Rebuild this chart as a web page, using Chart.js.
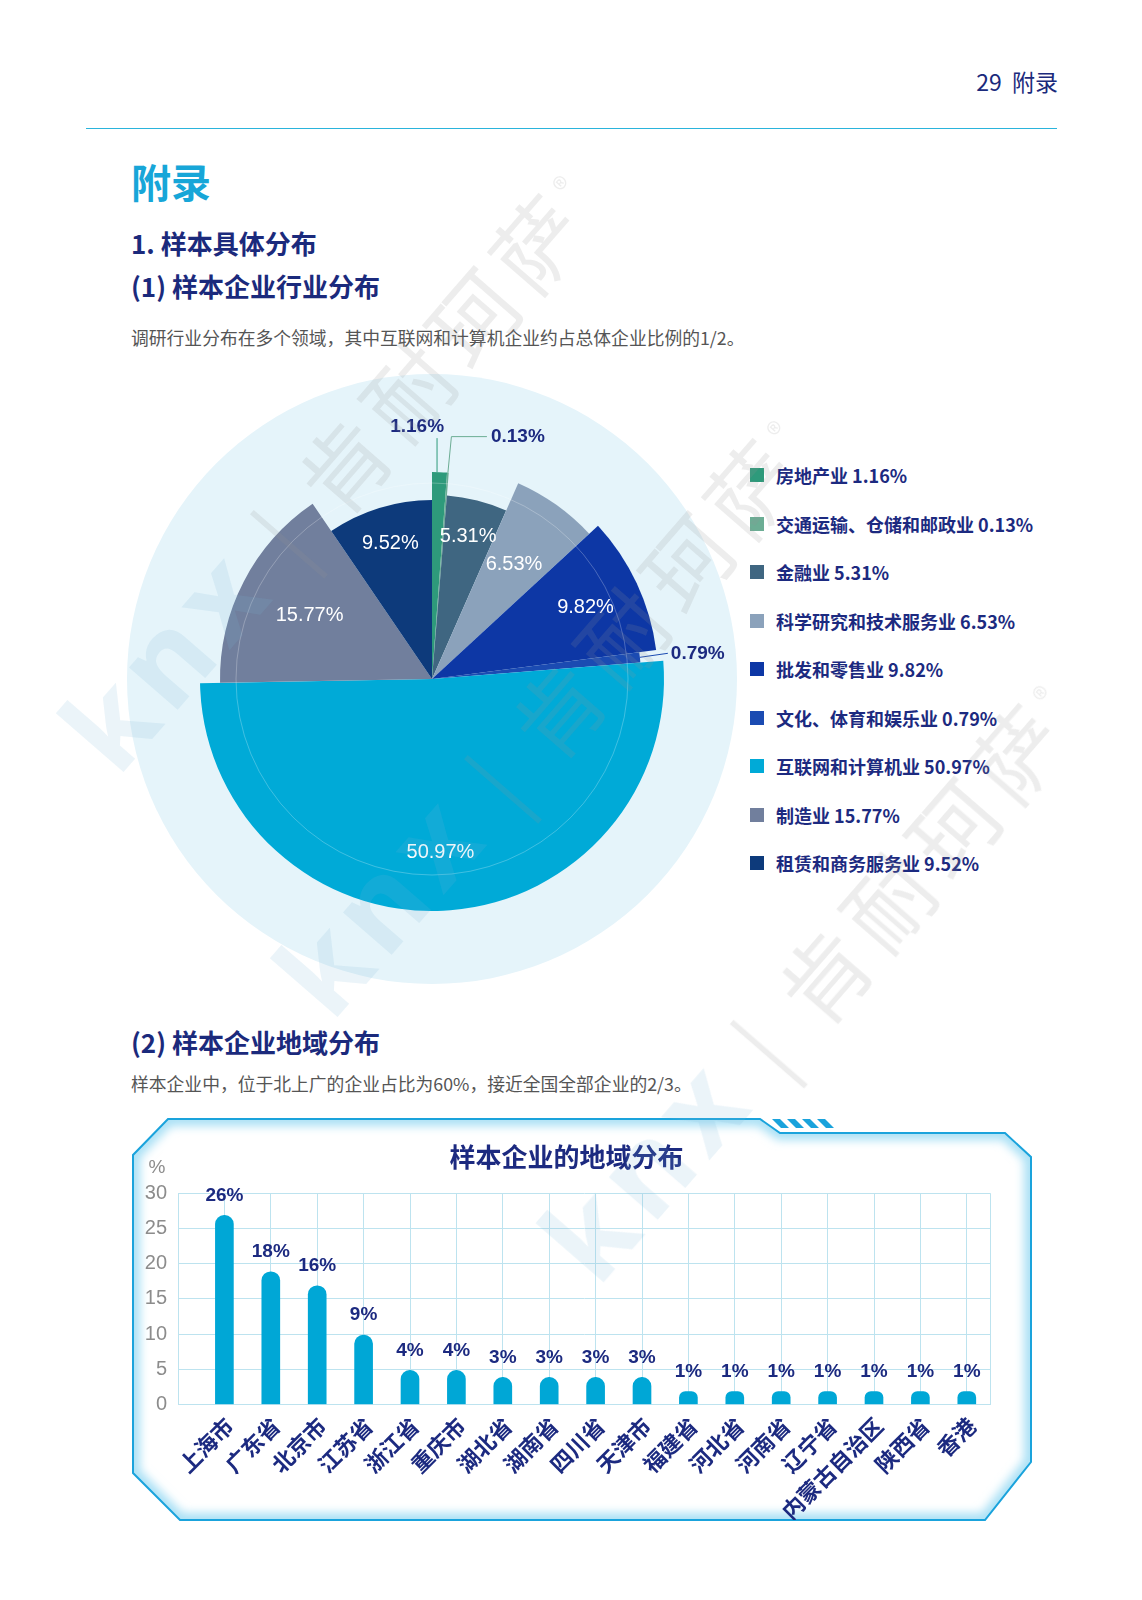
<!DOCTYPE html>
<html lang="zh-CN">
<head>
<meta charset="utf-8">
<title>附录 - 样本具体分布</title>
<script src="https://cdn.jsdelivr.net/npm/chart.js@4.4.1/dist/chart.umd.min.js"></script>
<style>
  html, body { margin: 0; padding: 0; background: #fff; }
  body { width: 1142px; height: 1600px; position: relative; overflow: hidden; font-family: "Noto Sans CJK SC", "Noto Sans", sans-serif; }
  .abs { position: absolute; white-space: nowrap; }
  .page-no { right: 84px; top: 64px; font-size: 23px; line-height: 34px; color: #1b2a7c; }
  .rule { left: 86px; top: 128px; width: 971px; height: 0; border-top: 1.5px solid #2ab4dc; }
  .h0 { left: 131px; top: 155px; font-size: 40px; line-height: 52px; font-weight: 700; color: #17a6d8; }
  .h1 { left: 131px; font-size: 26px; line-height: 34px; font-weight: 700; color: #1b2a7c; }
  .desc { left: 131px; font-size: 17.8px; line-height: 24px; color: #555; }
  .legend-row { position: absolute; left: 0; height: 26px; line-height: 26px; font-size: 18px; font-weight: 700; color: #1c2a80; white-space: nowrap; }
  .swatch { position: absolute; left: 0; top: 6px; width: 14px; height: 14px; }
  .legend-text { position: absolute; left: 26px; top: 0; }
  .wm { position: absolute; white-space: nowrap; font-size: 88px; line-height: 88px; letter-spacing: 10px; transform-origin: 0 100%; transform: rotate(-49deg); pointer-events: none; z-index: 5; color: rgba(150, 150, 150, 0.17); }
  .wm .k { font-size: 118px; color: rgba(120, 180, 215, 0.15); font-weight: 700; font-family: "Noto Sans", sans-serif; }
  .wm .r { font-size: 30px; vertical-align: 40px; }
  canvas { position: absolute; }
</style>
</head>
<body>

<div class="abs page-no">29&nbsp;&nbsp;附录</div>
<div class="abs rule"></div>
<div class="abs h0">附录</div>
<div class="abs h1" style="top:226px">1. 样本具体分布</div>
<div class="abs h1" style="top:269px">(1) 样本企业行业分布</div>
<div class="abs desc" style="top:325px">调研行业分布在多个领域，其中互联网和计算机企业约占总体企业比例的1/2。</div>

<canvas id="industryChart" width="610" height="610" style="left:127px;top:374px"></canvas>
<div id="industryLegend" class="abs" style="left:750px;top:462px"></div>

<div class="abs h1" style="top:1025px">(2) 样本企业地域分布</div>
<div class="abs desc" style="top:1071px">样本企业中，位于北上广的企业占比为60%，接近全国全部企业的2/3。</div>

<svg class="abs" style="left:0;top:0" width="1142" height="1600">
  <defs>
    <filter id="glow" x="-10%" y="-10%" width="120%" height="120%"><feGaussianBlur stdDeviation="5"/></filter>
    <clipPath id="frameClip"><polygon points="168,1119 760,1119 780,1133 1005,1133 1031,1157 1031,1462 985,1520 180,1520 133,1473 133,1155"/></clipPath>
  </defs>
  <polygon points="168,1119 760,1119 780,1133 1005,1133 1031,1157 1031,1462 985,1520 180,1520 133,1473 133,1155"
           fill="none" stroke="#a9e0f5" stroke-width="14" filter="url(#glow)" clip-path="url(#frameClip)"/>
  <polygon points="168,1119 760,1119 780,1133 1005,1133 1031,1157 1031,1462 985,1520 180,1520 133,1473 133,1155"
           fill="none" stroke="#1aa3dc" stroke-width="2"/>
  <g fill="#1aa3dc">
    <polygon points="772,1119 780,1119 789,1128 781,1128"/>
    <polygon points="787,1119 795,1119 804,1128 796,1128"/>
    <polygon points="802,1119 810,1119 819,1128 811,1128"/>
    <polygon points="817,1119 825,1119 834,1128 826,1128"/>
  </g>
</svg>
<canvas id="regionChart" width="867" height="395" style="left:133px;top:1125px"></canvas>

<div class="wm" style="left:122px;top:680px"><span class="k">knx</span>&nbsp;|&nbsp;肯耐珂萨<span class="r">®</span></div>
<div class="wm" style="left:336px;top:925px"><span class="k">knx</span>&nbsp;|&nbsp;肯耐珂萨<span class="r">®</span></div>
<div class="wm" style="left:602px;top:1190px"><span class="k">knx</span>&nbsp;|&nbsp;肯耐珂萨<span class="r">®</span></div>

<script>
// Industry distribution (pie)
const industryLabels = ['房地产业', '交通运输、仓储和邮政业', '金融业', '科学研究和技术服务业', '批发和零售业',
  '文化、体育和娱乐业', '互联网和计算机业', '制造业', '租赁和商务服务业'];
const industryShares = [1.16, 0.13, 5.31, 6.53, 9.82, 0.79, 50.97, 15.77, 9.52];

// Region distribution (bars)
const regionLabels = ['上海市', '广东省', '北京市', '江苏省', '浙江省', '重庆市', '湖北省', '湖南省', '四川省',
  '天津市', '福建省', '河北省', '河南省', '辽宁省', '内蒙古自治区', '陕西省', '香港'];
const regionShares = [26, 18, 16, 9, 4, 4, 3, 3, 3, 3, 1, 1, 1, 1, 1, 1, 1];
const yTickStep = 5;
const yTickMax = 30;

// Styles
const sliceColors = ['#2e9a7b', '#6cad94', '#3f6681', '#8ba2bb', '#0d37a5', '#1b4bb2', '#00aad7', '#717f9d', '#0d3a7b'];
const sliceRadius = [207, 207, 184, 214, 226, 209, 232, 212, 179];
const labelDistance = [0, 0, 0.80, 0.66, 0.75, 0, 0.75, 0.65, 0.79];
const callouts = {
  0: { path: [[-2.5, 0], [-2.5, -34]], text: [4.5, -45], align: 'right' },
  1: { path: [[0, 0], [3.5, -36], [39, -36]], text: [43, -36], align: 'left' },
  5: { path: [[0, 0], [28, -4]], text: [31, -4], align: 'left' }
};
const navy = '#1c2a80';
const gridColor = '#bde3ef';
const barColor = '#00a7d6';
const barCap = 6;

// Legend
const legendBox = document.getElementById('industryLegend');
industryLabels.forEach((name, i) => {
  const row = document.createElement('div');
  row.className = 'legend-row';
  row.style.top = (i * 48.5) + 'px';
  row.innerHTML = `<span class="swatch" style="background:${sliceColors[i]}"></span>
    <span class="legend-text">${name} ${industryShares[i].toFixed(2)}%</span>`;
  legendBox.appendChild(row);
});

const pieDecor = {
  id: 'pieDecor',
  afterDatasetsUpdate(chart) {
    chart.getDatasetMeta(0).data.forEach((arc, i) => { arc.outerRadius = sliceRadius[i]; });
  },
  beforeDatasetsDraw(chart) {
    const { ctx, chartArea } = chart;
    const cx = (chartArea.left + chartArea.right) / 2;
    const cy = (chartArea.top + chartArea.bottom) / 2;
    ctx.save();
    ctx.fillStyle = '#e5f4fa';
    ctx.beginPath();
    ctx.arc(cx, cy, Math.min(chartArea.width, chartArea.height) / 2, 0, Math.PI * 2);
    ctx.fill();
    ctx.restore();
  },
  afterDatasetsDraw(chart) {
    const ctx = chart.ctx;
    const arcs = chart.getDatasetMeta(0).data;
    ctx.save();
    // faint ring over the slices
    ctx.strokeStyle = 'rgba(255,255,255,0.25)';
    ctx.lineWidth = 1;
    ctx.beginPath();
    ctx.arc(arcs[0].x, arcs[0].y, 196, 0, Math.PI * 2);
    ctx.stroke();

    ctx.textBaseline = 'middle';
    arcs.forEach((arc, i) => {
      const mid = (arc.startAngle + arc.endAngle) / 2;
      const text = industryShares[i].toFixed(2) + '%';
      if (labelDistance[i]) {
        const r = arc.outerRadius * labelDistance[i];
        ctx.fillStyle = '#fff';
        ctx.font = '20px "Liberation Sans", Arial, sans-serif';
        ctx.textAlign = 'center';
        ctx.fillText(text, arc.x + Math.cos(mid) * r, arc.y + Math.sin(mid) * r);
        return;
      }
      const c = callouts[i];
      const px = arc.x + Math.cos(mid) * arc.outerRadius;
      const py = arc.y + Math.sin(mid) * arc.outerRadius;
      ctx.strokeStyle = sliceColors[i];
      ctx.lineWidth = 1;
      ctx.beginPath();
      c.path.forEach(([dx, dy], k) => k ? ctx.lineTo(px + dx, py + dy) : ctx.moveTo(px + dx, py + dy));
      ctx.stroke();
      ctx.fillStyle = navy;
      ctx.font = 'bold 19px "Liberation Sans", Arial, sans-serif';
      ctx.textAlign = c.align;
      ctx.fillText(text, px + c.text[0], py + c.text[1]);
    });
    ctx.restore();
  }
};

new Chart(document.getElementById('industryChart'), {
  type: 'pie',
  data: {
    labels: industryLabels,
    datasets: [{ data: industryShares, backgroundColor: sliceColors, borderWidth: 0 }]
  },
  options: {
    responsive: false,
    animation: false,
    events: [],
    layout: { padding: 0 },
    plugins: { legend: { display: false }, tooltip: { enabled: false } }
  },
  plugins: [pieDecor]
});

const barDecor = {
  id: 'barDecor',
  afterDatasetsUpdate(chart) {
    // round cap sits on top of each bar
    chart.getDatasetMeta(0).data.forEach(bar => { bar.y -= barCap; });
  },
  afterDatasetsDraw(chart) {
    const ctx = chart.ctx;
    ctx.save();
    ctx.fillStyle = navy;
    ctx.font = 'bold 19px "Liberation Sans", Arial, sans-serif';
    ctx.textAlign = 'center';
    ctx.textBaseline = 'middle';
    chart.getDatasetMeta(0).data.forEach((bar, i) => {
      ctx.fillText(regionShares[i] + '%', bar.x, bar.y - 20);
    });
    // unit above the y axis
    ctx.fillStyle = '#8c8c8c';
    ctx.font = '19px "Liberation Sans", Arial, sans-serif';
    ctx.fillText('%', chart.chartArea.left - 21, chart.chartArea.top - 25);
    ctx.restore();
  }
};

new Chart(document.getElementById('regionChart'), {
  type: 'bar',
  data: {
    datasets: [{
      data: regionShares.map((v, i) => ({ x: i + 1, y: v })),
      backgroundColor: barColor,
      barThickness: 18,
      borderRadius: { topLeft: 9, topRight: 9, bottomLeft: 0, bottomRight: 0 },
      borderSkipped: 'bottom'
    }]
  },
  options: {
    responsive: false,
    animation: false,
    events: [],
    layout: { padding: { left: 10, right: 10, top: 0, bottom: 0 } },
    plugins: {
      legend: { display: false },
      tooltip: { enabled: false },
      title: {
        display: true,
        text: '样本企业的地域分布',
        color: navy,
        font: { size: 26, weight: 'bold', family: '"Noto Sans CJK SC", sans-serif' },
        padding: { top: 17, bottom: 20 }
      }
    },
    scales: {
      x: {
        type: 'linear',
        min: 0,
        max: regionLabels.length + 0.5,
        offset: false,
        afterBuildTicks(scale) {
          scale.ticks = [0, ...regionLabels.map((_, i) => i + 1), regionLabels.length + 0.5].map(v => ({ value: v }));
        },
        afterFit(scale) {
          scale.height = 115.5;
          scale.paddingLeft = 0;
          scale.paddingRight = 0;
        },
        grid: { color: gridColor, drawTicks: false, offset: false },
        border: { color: gridColor },
        ticks: {
          autoSkip: false,
          minRotation: 45,
          maxRotation: 45,
          padding: 8,
          labelOffset: 5,
          color: navy,
          font: { size: 22, weight: 'bold', family: '"Noto Sans CJK SC", sans-serif' },
          callback: value => regionLabels[value - 1] || ''
        }
      },
      y: {
        min: 0,
        max: yTickMax,
        afterFit(scale) { scale.width = 35; },
        grid: { color: gridColor, drawTicks: false },
        border: { color: gridColor },
        ticks: {
          stepSize: yTickStep,
          padding: 11,
          color: '#8c8c8c',
          font: { size: 20, family: '"Liberation Sans", Arial, sans-serif' }
        }
      }
    }
  },
  plugins: [barDecor]
});
</script>
</body>
</html>
